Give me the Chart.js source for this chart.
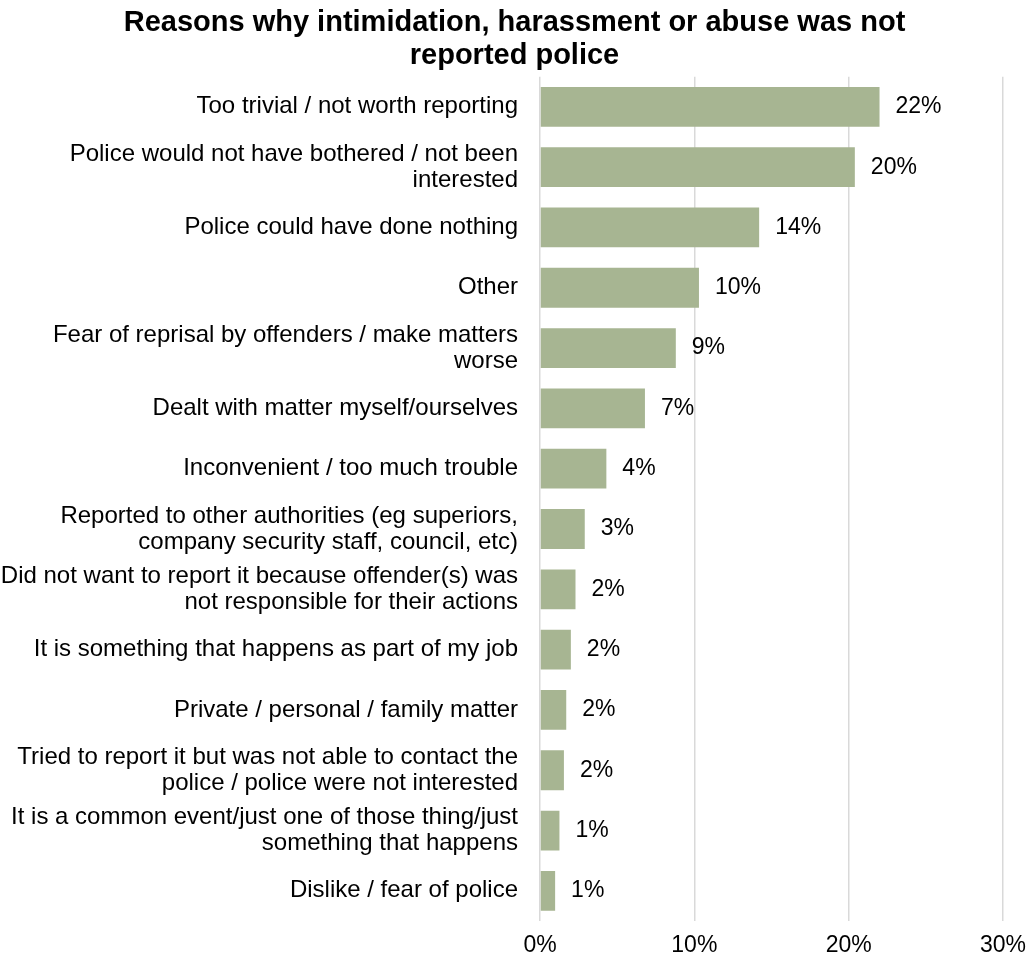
<!DOCTYPE html>
<html>
<head>
<meta charset="utf-8">
<script src="https://cdn.jsdelivr.net/npm/chart.js"></script>
<style>
  body { margin: 0; background: #fff; }
  #wrap { width: 1029px; height: 968px; }
</style>
</head>
<body>
<div id="wrap"><canvas id="chart" width="1029" height="968"></canvas></div>
<script>
// categories (top to bottom)
const reasons = [
    'Too trivial / not worth reporting',
    ['Police would not have bothered / not been', 'interested'],
    'Police could have done nothing',
    'Other',
    ['Fear of reprisal by offenders / make matters', 'worse'],
    'Dealt with matter myself/ourselves',
    'Inconvenient / too much trouble',
    ['Reported to other authorities (eg superiors,', 'company security staff, council, etc)'],
    ['Did not want to report it because offender(s) was', 'not responsible for their actions'],
    'It is something that happens as part of my job',
    'Private / personal / family matter',
    ['Tried to report it but was not able to contact the', 'police / police were not interested'],
    ['It is a common event/just one of those thing/just', 'something that happens'],
    'Dislike / fear of police'
];

// share of respondents, %
const shares = [22.0, 20.4, 14.2, 10.3, 8.8, 6.8, 4.3, 2.9, 2.3, 2.0, 1.7, 1.55, 1.26, 0.98];

const xTicks = [0, 10, 20, 30];

const FONT = 'Arial, "Liberation Sans", sans-serif';

// etiquetas de valor al final de cada barra
const valueLabels = {
    id: 'valueLabels',
    afterDatasetsDraw(chart) {
        const ctx = chart.ctx;
        const meta = chart.getDatasetMeta(0);
        ctx.save();
        ctx.font = '23px ' + FONT;
        ctx.fillStyle = '#000';
        ctx.textAlign = 'left';
        ctx.textBaseline = 'middle';
        meta.data.forEach((bar, i) => {
            ctx.fillText(Math.round(shares[i]) + '%', bar.x + 16, bar.y);
        });
        ctx.restore();
    }
};

new Chart(document.getElementById('chart'), {
    type: 'bar',
    data: {
        labels: reasons,
        datasets: [{
            data: shares,
            backgroundColor: '#a7b592',
            categoryPercentage: 1,
            barPercentage: 0.66
        }]
    },
    options: {
        indexAxis: 'y',
        responsive: false,
        animation: false,
        layout: { padding: { left: 0, right: 0, top: 0, bottom: 0 } },
        plugins: {
            legend: { display: false },
            tooltip: { enabled: false },
            title: {
                display: true,
                text: ['Reasons why intimidation, harassment or abuse was not', 'reported police'],
                color: '#000',
                font: { family: FONT, size: 29, weight: 'bold', lineHeight: 1.15 },
                padding: { top: 6, bottom: 4 }
            }
        },
        scales: {
            x: {
                min: 0,
                max: 30,
                afterBuildTicks(scale) {
                    scale.ticks = xTicks.map(v => ({ value: v }));
                },
                afterFit(scale) {
                    scale.height = 47;
                    scale.paddingLeft = 0;
                    scale.paddingRight = 26;
                },
                grid: { color: '#d9d9d9', lineWidth: 1.5, drawTicks: false },
                border: { display: false },
                ticks: {
                    color: '#000',
                    padding: 11,
                    font: { family: FONT, size: 23 },
                    callback: v => v + '%'
                }
            },
            y: {
                grid: { display: false, drawTicks: false },
                border: { display: false },
                ticks: {
                    color: '#000',
                    padding: 22,
                    font: { family: FONT, size: 24, lineHeight: 1.09 }
                },
                afterFit(scale) {
                    scale.width = 540;
                }
            }
        }
    },
    plugins: [valueLabels]
});
</script>
</body>
</html>
